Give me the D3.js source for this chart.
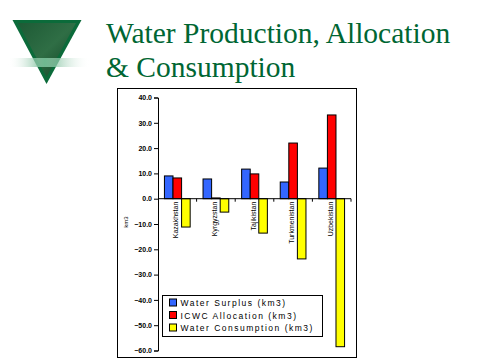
<!DOCTYPE html>
<html>
<head>
<meta charset="utf-8">
<script src="https://cdn.jsdelivr.net/npm/d3@7"></script>
<style>
  body { margin: 0; background: #fff; }
  svg { display: block; }
  .tick-lbl { font-family: Arial, "Liberation Sans", sans-serif; font-size: 7px; font-weight: bold; }
  .cat-lbl { font-family: Arial, "Liberation Sans", sans-serif; font-size: 7px; }
  .legend-lbl { font-family: Arial, "Liberation Sans", sans-serif; font-size: 8.5px; letter-spacing: 1.5px; }
</style>
</head>
<body>
<div id="chart"></div>
<script>
var countries = ["Kazakhstan", "Kyrgyzstan", "Tajikistan", "Turkmenistan", "Uzbekistan"];
var seriesNames = ["Water Surplus (km3)", "ICWC Allocation (km3)", "Water Consumption (km3)"];
var surplus = [9.0, 7.8, 11.7, 6.6, 12.1];
var allocation = [8.2, 0.3, 9.8, 22.0, 33.1];
var consumption = [-11.2, -5.3, -13.6, -23.8, -58.5];
var yTicks = [40, 30, 20, 10, 0, -10, -20, -30, -40, -50, -60];
var colors = ["#3366ff", "#ff0000", "#ffff00"];

window.onload = () => {
    var width = 480, height = 360;
    var svg = d3.select("#chart").append("svg")
        .attr("width", width)
        .attr("height", height);

    // logo: inverted green triangle with a faded band
    var defs = svg.append("defs");
    var grad = defs.append("linearGradient").attr("id", "band");
    grad.append("stop").attr("offset", "0%").attr("stop-color", "#ffffff").attr("stop-opacity", 0);
    grad.append("stop").attr("offset", "45%").attr("stop-color", "#6fb890").attr("stop-opacity", 1);
    grad.append("stop").attr("offset", "100%").attr("stop-color", "#ffffff").attr("stop-opacity", 0);
    var tex = defs.append("linearGradient").attr("id", "marble")
        .attr("x1", 0).attr("y1", 0).attr("x2", 1).attr("y2", 1);
    tex.append("stop").attr("offset", "0%").attr("stop-color", "#1d5a35");
    tex.append("stop").attr("offset", "50%").attr("stop-color", "#2f6e45");
    tex.append("stop").attr("offset", "100%").attr("stop-color", "#0f3f22");

    svg.append("path")
        .attr("d", "M12.5,20 L81.5,20 L46.5,84 Z")
        .attr("fill", "#0b6b3a");
    svg.append("path")
        .attr("d", "M18,23 L76,23 L46.5,77 Z")
        .attr("fill", "url(#marble)");
    svg.append("rect")
        .attr("x", 8).attr("y", 58).attr("width", 82).attr("height", 9)
        .attr("fill", "url(#band)");

    // title
    var title = svg.append("text")
        .attr("fill", "#006633")
        .style("font-family", "'Liberation Serif', 'Times New Roman', serif")
        .style("font-size", "29.5px");
    title.append("tspan").attr("x", 106).attr("y", 43).text("Water Production, Allocation");
    title.append("tspan").attr("x", 106).attr("y", 77).text("& Consumption");

    // chart frame
    svg.append("rect")
        .attr("x", 117.5).attr("y", 88.5)
        .attr("width", 239).attr("height", 269)
        .attr("fill", "#fff").attr("stroke", "#000").attr("stroke-width", 1);

    var y = d3.scaleLinear().domain([-60, 40]).range([350.5, 97.5]);
    var x0 = d3.scaleBand().domain(countries).range([158, 351]);
    var bw = x0.bandwidth();
    var x1 = d3.scaleBand().domain(d3.range(3)).range([bw / 6, bw * 5 / 6]);

    var yAxis = svg.append("g")
        .attr("transform", "translate(158,0)")
        .call(d3.axisLeft(y).tickValues(yTicks).tickSize(4).tickFormat(d3.format(".1f")));
    yAxis.select(".domain").attr("stroke", "#000");
    yAxis.selectAll("text").attr("class", "tick-lbl").attr("fill", "#000").attr("x", -6);

    var rows = countries.map((c, i) => ({ country: c, values: [surplus[i], allocation[i], consumption[i]] }));

    var groups = svg.selectAll("g.country")
        .data(rows)
        .enter().append("g")
        .attr("class", "country")
        .attr("transform", d => "translate(" + x0(d.country) + ",0)");

    groups.selectAll("rect")
        .data(d => d.values)
        .enter().append("rect")
        .attr("x", (_, i) => x1(i))
        .attr("width", x1.bandwidth())
        .attr("y", d => y(Math.max(0, d)))
        .attr("height", d => Math.abs(y(d) - y(0)))
        .attr("fill", (_, i) => colors[i])
        .attr("stroke", "#000")
        .attr("stroke-width", 1);

    // zero axis with band ticks
    var xAxis = svg.append("g")
        .attr("transform", "translate(0," + y(0) + ")");
    xAxis.append("line")
        .attr("x1", 158).attr("x2", 351)
        .attr("stroke", "#000");
    xAxis.selectAll("line.tk")
        .data(countries)
        .enter().append("line")
        .attr("class", "tk")
        .attr("x1", d => x0(d) + bw).attr("x2", d => x0(d) + bw)
        .attr("y1", 0).attr("y2", 3)
        .attr("stroke", "#000");

    groups.append("text")
        .attr("class", "cat-lbl")
        .attr("transform", "translate(" + (bw / 2 + 1) + "," + (y(0) + 3) + ") rotate(-90)")
        .attr("text-anchor", "end")
        .text(d => d.country);

    svg.append("text")
        .attr("class", "cat-lbl")
        .attr("transform", "translate(128," + (y(-10) - 2) + ") rotate(-90)")
        .attr("text-anchor", "middle")
        .style("font-size", "6px")
        .text("km3");

    // legend
    var legend = svg.append("g").attr("transform", "translate(162.5,295.5)");
    legend.append("rect")
        .attr("width", 160).attr("height", 41)
        .attr("fill", "#fff").attr("stroke", "#000");
    var items = legend.selectAll("g.item")
        .data(seriesNames)
        .enter().append("g")
        .attr("class", "item")
        .attr("transform", (_, i) => "translate(7," + (3.5 + i * 12.5) + ")");
    items.append("rect")
        .attr("width", 7).attr("height", 7)
        .attr("fill", (_, i) => colors[i])
        .attr("stroke", "#000");
    items.append("text")
        .attr("class", "legend-lbl")
        .attr("x", 11).attr("y", 7)
        .text(d => d);
};
</script>
</body>
</html>
